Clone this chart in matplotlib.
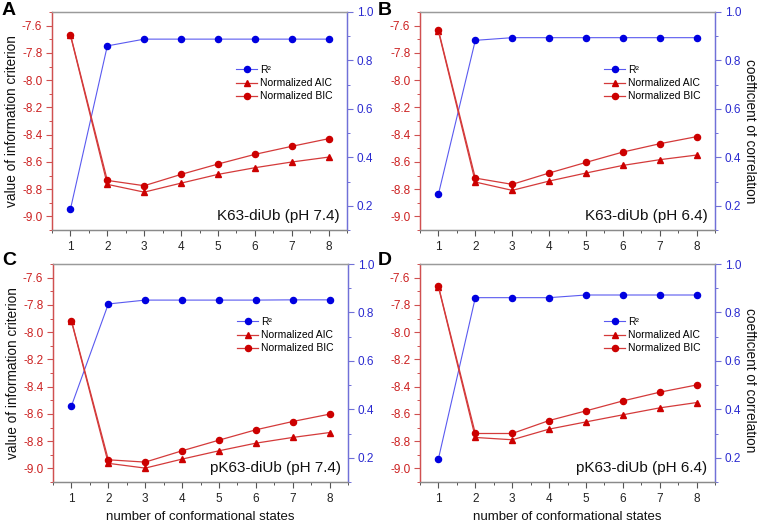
import matplotlib
matplotlib.use("Agg")
import matplotlib.pyplot as plt
from matplotlib.ticker import MultipleLocator, FormatStrFormatter
from matplotlib.lines import Line2D

plt.rcParams['font.family'] = ['Liberation Sans', 'DejaVu Sans']

states = [1, 2, 3, 4, 5, 6, 7, 8]

# Panel A: K63-diUb (pH 7.4)
a_r2 = [0.186, 0.860, 0.888, 0.888, 0.888, 0.888, 0.888, 0.888]
a_aic = [-7.671, -8.765, -8.822, -8.756, -8.692, -8.643, -8.601, -8.565]
a_bic = [-7.666, -8.736, -8.775, -8.692, -8.616, -8.545, -8.486, -8.430]

# Panel B: K63-diUb (pH 6.4)
b_r2 = [0.248, 0.883, 0.894, 0.894, 0.894, 0.894, 0.894, 0.894]
b_aic = [-7.642, -8.748, -8.809, -8.741, -8.682, -8.626, -8.584, -8.550]
b_bic = [-7.634, -8.719, -8.765, -8.682, -8.604, -8.528, -8.467, -8.415]

# Panel C: pK63-diUb (pH 7.4)
c_r2 = [0.414, 0.835, 0.851, 0.851, 0.851, 0.851, 0.852, 0.852]
c_aic = [-7.920, -8.963, -8.998, -8.932, -8.871, -8.815, -8.773, -8.737]
c_bic = [-7.915, -8.937, -8.954, -8.871, -8.793, -8.717, -8.656, -8.602]

# Panel D: pK63-diUb (pH 6.4)
d_r2 = [0.196, 0.861, 0.861, 0.861, 0.872, 0.872, 0.872, 0.872]
d_aic = [-7.668, -8.773, -8.790, -8.712, -8.659, -8.607, -8.556, -8.517]
d_bic = [-7.663, -8.744, -8.744, -8.649, -8.578, -8.505, -8.441, -8.388]

panel_letters = ['A', 'B', 'C', 'D']
panel_titles = ['K63-diUb (pH 7.4)', 'K63-diUb (pH 6.4)',
                'pK63-diUb (pH 7.4)', 'pK63-diUb (pH 6.4)']
legend_labels = ['R²', 'Normalized AIC', 'Normalized BIC']
left_label = 'value of information criterion'
right_label = 'coefficient of correlation'
x_label = 'number of conformational states'

data = [(a_r2, a_aic, a_bic), (b_r2, b_aic, b_bic),
        (c_r2, c_aic, c_bic), (d_r2, d_aic, d_bic)]

RED = '#cc0000'
RED_LINE = '#d43a3a'
RED_SPINE = '#d05050'
RED_TXT = '#cc2020'
BLUE = '#0000e0'
BLUE_LINE = '#5a5af0'
BLUE_SPINE = '#7070d8'
BLUE_TXT = '#2a2ad0'
MS = 4.4

fig = plt.figure(figsize=(7.57, 5.23), dpi=100)
W, H = 757, 523
boxes = [(52, 12), (420, 12), (53, 264), (420, 264)]
letter_pos = [(2, 2), (378, 2), (2, 252), (378, 252)]
right_label_pos = [None, (750, 131), None, (750, 380)]
aw, ah = 295, 218

for i, (r2, aic, bic) in enumerate(data):
    x0, y0 = boxes[i]
    ax = fig.add_axes([x0 / W, 1 - (y0 + ah) / H, aw / W, ah / H])
    ax2 = ax.twinx()
    ax.set_zorder(ax2.get_zorder() + 1)
    ax.patch.set_visible(False)

    ax.plot(states, aic, color=RED_LINE, lw=0.9, marker='^', ms=MS + 0.4,
            mfc=RED, mec=RED, zorder=3)
    ax.plot(states, bic, color=RED_LINE, lw=0.9, marker='o', ms=MS,
            mfc=RED, mec=RED, zorder=3)
    ax2.plot(states, r2, color=BLUE_LINE, lw=0.8, marker='o', ms=MS,
             mfc=BLUE, mec=BLUE)
    ax.set_xlim(0.5, 8.5)
    ax.set_ylim(-9.1, -7.5)
    ax2.set_ylim(0.1, 1.0)

    ax.xaxis.set_major_locator(MultipleLocator(1))
    ax.xaxis.set_minor_locator(MultipleLocator(0.5))
    ax.yaxis.set_major_locator(MultipleLocator(0.2))
    ax.yaxis.set_minor_locator(MultipleLocator(0.1))
    ax.yaxis.set_major_formatter(FormatStrFormatter('%.1f'))
    ax2.yaxis.set_major_locator(MultipleLocator(0.2))
    ax2.yaxis.set_minor_locator(MultipleLocator(0.1))
    ax2.yaxis.set_major_formatter(FormatStrFormatter('%.1f'))

    for a in (ax, ax2):
        a.spines['top'].set_color('#9a9a9a')
        a.spines['bottom'].set_color('#8a8a8a')
        a.spines['left'].set_color(RED_SPINE)
        a.spines['right'].set_color(BLUE_SPINE)
        for s in a.spines.values():
            s.set_linewidth(0.9)

    ax.tick_params(axis='y', which='major', colors=RED_SPINE, labelcolor=RED_TXT,
                   labelsize=8.5, length=4, width=0.8, direction='out', pad=3)
    ax.tick_params(axis='y', which='minor', colors=RED_SPINE, length=2, width=0.7)
    ax2.tick_params(axis='y', which='major', colors=BLUE_SPINE, labelcolor=BLUE_TXT,
                    labelsize=8.5, length=4, width=0.8, direction='out', pad=3)
    ax2.tick_params(axis='y', which='minor', colors=BLUE_SPINE, length=2, width=0.7)
    ax.tick_params(axis='x', which='major', colors='#555555', labelcolor='#222222',
                   labelsize=8.5, length=4, width=0.8, direction='out', pad=4)
    ax.tick_params(axis='x', which='minor', colors='#555555', length=2, width=0.7)

    if i % 2 == 0:
        ax.set_ylabel(left_label, fontsize=9.8, color='#111111', labelpad=2)
    else:
        rx, ry = right_label_pos[i]
        fig.text(rx / W, 1 - ry / H, right_label, fontsize=9.8, color='#111111',
                 rotation=270, ha='center', va='center')
    if i >= 2:
        ax.set_xlabel(x_label, fontsize=9.5, color='#111111', labelpad=4)

    ax.text(0.975, 0.03, panel_titles[i], transform=ax.transAxes,
            ha='right', va='bottom', fontsize=11, color='#111111')
    lx, ly = letter_pos[i]
    fig.text(lx / W, 1 - ly / H, panel_letters[i],
             ha='left', va='top', fontsize=14, fontweight='bold')

    handles = [
        Line2D([], [], color=BLUE_LINE, lw=0.8, marker='o', ms=MS, mfc=BLUE, mec=BLUE),
        Line2D([], [], color=RED_LINE, lw=0.9, marker='^', ms=MS + 0.4, mfc=RED, mec=RED),
        Line2D([], [], color=RED_LINE, lw=0.9, marker='o', ms=MS, mfc=RED, mec=RED),
    ]
    ax.legend(handles, legend_labels, loc='upper left',
              bbox_to_anchor=(0.6, 0.79), frameon=False, fontsize=7.5,
              handlelength=2.0, handletextpad=0.3, labelspacing=0.3,
              borderpad=0.2)

fig.savefig('out.png', dpi=100)
